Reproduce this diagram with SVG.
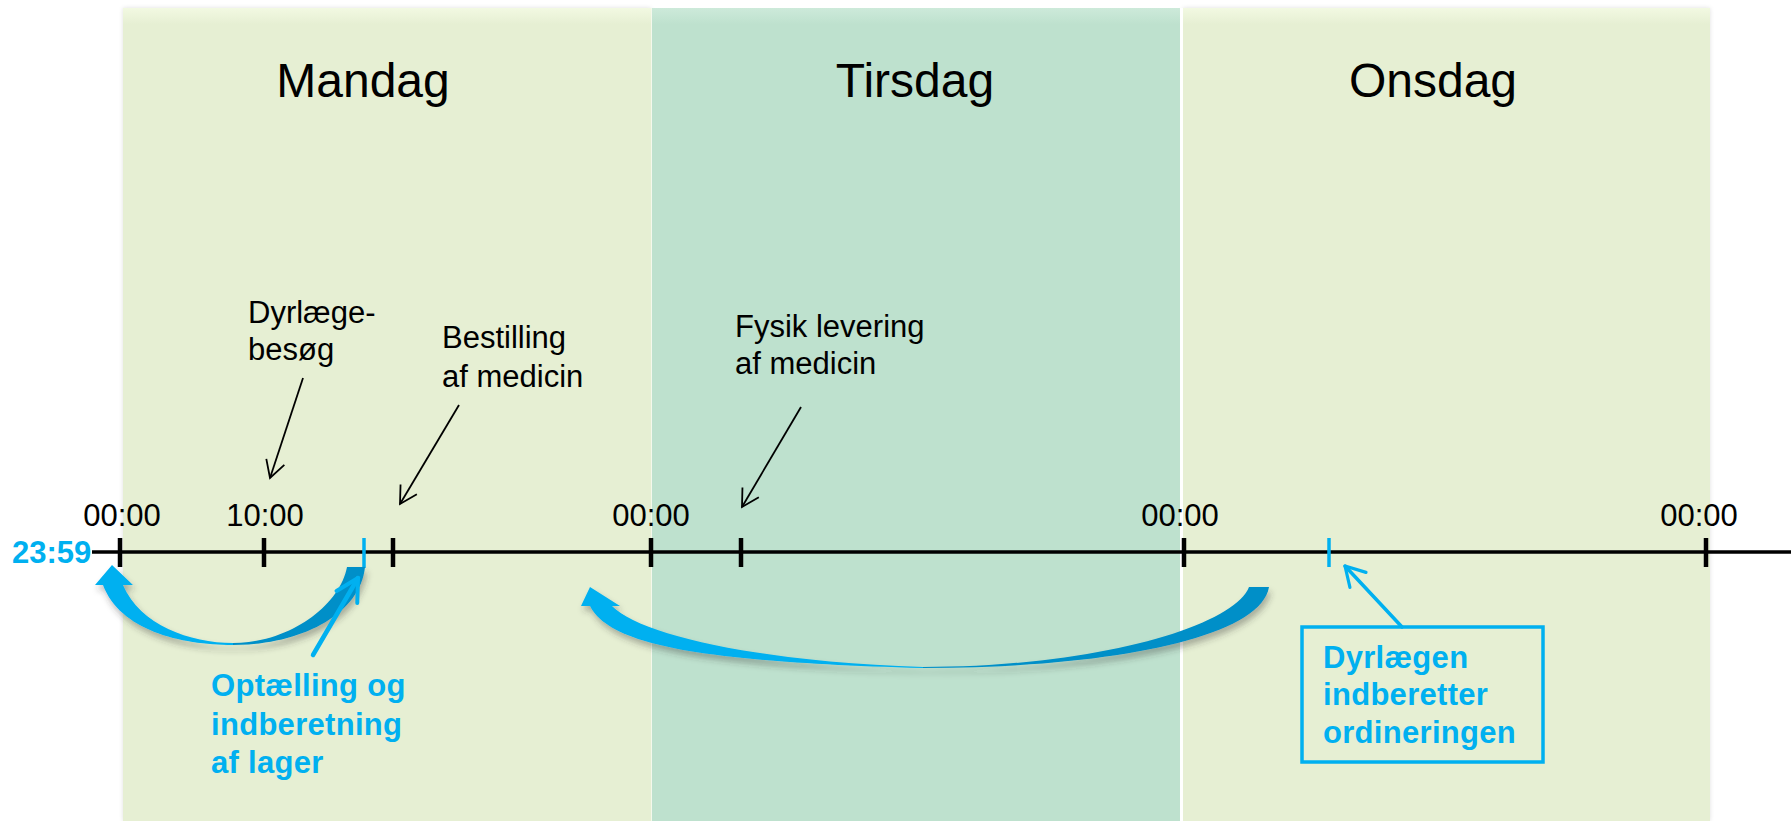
<svg xmlns="http://www.w3.org/2000/svg" width="1791" height="821" viewBox="0 0 1791 821">
<style>
.day{font-family:"Liberation Sans",Arial,sans-serif;font-size:48px;fill:#000;text-anchor:middle}
.lbl{font-family:"Liberation Sans",Arial,sans-serif;font-size:31px;fill:#000}
.tm{font-family:"Liberation Sans",Arial,sans-serif;font-size:31px;fill:#000;text-anchor:middle}
.blue{font-family:"Liberation Sans",Arial,sans-serif;font-size:31px;font-weight:bold;fill:#00b0f0;letter-spacing:0.3px}
.tick{stroke:#000;stroke-width:4.5}
.btick{stroke:#00b0f0;stroke-width:3.5}
.thin{fill:none;stroke:#000;stroke-width:1.8;marker-end:url(#ah)}
.bl{fill:none;stroke:#00b0f0;stroke-linecap:round}
</style>
<defs>
<linearGradient id="gLight" x1="0" y1="0" x2="0" y2="1">
<stop offset="0" stop-color="#f2f9e2"/><stop offset="0.02" stop-color="#e6efd3"/><stop offset="1" stop-color="#e6efd3"/>
</linearGradient>
<linearGradient id="gDark" x1="0" y1="0" x2="0" y2="1">
<stop offset="0" stop-color="#cdeada"/><stop offset="0.02" stop-color="#bee1ce"/><stop offset="1" stop-color="#bee1ce"/>
</linearGradient>
<filter id="sh" x="-10%" y="-30%" width="120%" height="180%">
<feDropShadow dx="2" dy="5" stdDeviation="3" flood-color="#303030" flood-opacity="0.35"/>
</filter>
<filter id="psh" x="-5%" y="-5%" width="110%" height="110%">
<feDropShadow dx="0" dy="0" stdDeviation="2" flood-color="#000" flood-opacity="0.12"/>
</filter>
<marker id="ah" markerUnits="userSpaceOnUse" markerWidth="24" markerHeight="24" viewBox="-20 -12 24 24" refX="0" refY="0" orient="auto">
<path d="M-17,-9.5 L0,0 L-17,9.5" fill="none" stroke="#000" stroke-width="1.8"/>
</marker>
<marker id="ahb" markerUnits="userSpaceOnUse" markerWidth="34" markerHeight="34" viewBox="-28 -17 34 34" refX="0" refY="0" orient="auto">
<path d="M-22,-12 L0,0 L-22,12" fill="none" stroke="#00b0f0" stroke-width="4" stroke-linecap="round" stroke-linejoin="round"/>
</marker>
<marker id="ahb2" markerUnits="userSpaceOnUse" markerWidth="30" markerHeight="30" viewBox="-24 -15 30 30" refX="0" refY="0" orient="auto">
<path d="M-19,-11 L0,0 L-19,11" fill="none" stroke="#00b0f0" stroke-width="3.2" stroke-linecap="round" stroke-linejoin="round"/>
</marker>
</defs>

<g id="panels">
<rect id="panel-mandag" x="123" y="8" width="528" height="813" fill="url(#gLight)" filter="url(#psh)"/>
<rect id="panel-onsdag" x="1183" y="8" width="527" height="813" fill="url(#gLight)" filter="url(#psh)"/>
<rect id="panel-tirsdag" x="652" y="8" width="528" height="813" fill="url(#gDark)"/>
<line x1="651.5" y1="8" x2="651.5" y2="821" stroke="#f4f8ec" stroke-width="1"/>
<line x1="1181.5" y1="8" x2="1181.5" y2="821" stroke="#ffffff" stroke-width="3"/>
</g>

<g id="day-titles">
<text class="day" x="363" y="97">Mandag</text>
<text class="day" x="915" y="97">Tirsdag</text>
<text class="day" x="1433" y="97">Onsdag</text>
</g>

<g id="timeline">
<line x1="92" y1="552" x2="1791" y2="552" stroke="#000" stroke-width="3.5"/>
<line class="tick" x1="120" y1="538" x2="120" y2="567"/>
<line class="tick" x1="264" y1="538" x2="264" y2="567"/>
<line class="tick" x1="393" y1="538" x2="393" y2="567"/>
<line class="tick" x1="651" y1="538" x2="651" y2="567"/>
<line class="tick" x1="741" y1="538" x2="741" y2="567"/>
<line class="tick" x1="1184" y1="538" x2="1184" y2="567"/>
<line class="tick" x1="1706" y1="538" x2="1706" y2="567"/>
<line class="btick" x1="364" y1="538" x2="364" y2="568"/>
<line class="btick" x1="1329" y1="538" x2="1329" y2="567"/>
<text class="tm" x="122" y="526">00:00</text>
<text class="tm" x="265" y="526">10:00</text>
<text class="tm" x="651" y="526">00:00</text>
<text class="tm" x="1180" y="526">00:00</text>
<text class="tm" x="1699" y="526">00:00</text>
<text class="blue" x="12" y="563" style="letter-spacing:0px">23:59</text>
</g>

<g id="node-dyrlaegebesoeg">
<text class="lbl" x="248" y="323">Dyrlæge-</text>
<text class="lbl" x="248" y="360">besøg</text>
</g>
<g id="node-bestilling">
<text class="lbl" x="442" y="348">Bestilling</text>
<text class="lbl" x="442" y="387">af medicin</text>
</g>
<g id="node-fysik">
<text class="lbl" x="735" y="337">Fysik levering</text>
<text class="lbl" x="735" y="374">af medicin</text>
</g>
<g id="node-optaelling">
<text class="blue" x="211" y="696">Optælling og</text>
<text class="blue" x="211" y="735">indberetning</text>
<text class="blue" x="211" y="773">af lager</text>
</g>
<g id="node-dyrlaegen">
<rect x="1302" y="627" width="241" height="135" fill="none" stroke="#00b0f0" stroke-width="3.5"/>
<text class="blue" x="1323" y="668">Dyrlægen</text>
<text class="blue" x="1323" y="705">indberetter</text>
<text class="blue" x="1323" y="743">ordineringen</text>
</g>

<g id="connectors">
<line class="thin" x1="303" y1="378" x2="270" y2="478"/>
<line class="thin" x1="459" y1="405" x2="400" y2="504"/>
<line class="thin" x1="801" y1="407" x2="742" y2="507"/>
<line class="bl" x1="1402" y1="627" x2="1345" y2="566" stroke-width="3.5" marker-end="url(#ahb2)"/>
<g id="curved-arrow-1" filter="url(#sh)">
<path d="M95,585 L112,565 L133,585 L123,585 C140,625 190,643 233,643 L233,645 C180,645 120,630 103,585 Z" fill="#00b0f0"/>
<path d="M233,645 C300,645 360,615 365,567 L347,567 C340,605 290,643 233,643 Z" fill="#008fc8"/>
</g>
<g id="curved-arrow-2" filter="url(#sh)">
<path d="M581,606 L590,587 L620,606 L612,606 C640,635 760,662 923,667 L923,668 C700,662 610,645 590,606 Z" fill="#00b0f0"/>
<path d="M923,668 C1100,668 1260,640 1269,587 L1249,587 C1235,625 1100,667 923,667 Z" fill="#008fc8"/>
</g>
<line class="bl" x1="313" y1="655" x2="358" y2="578" stroke-width="4.5" marker-end="url(#ahb)"/>
</g>
</svg>
